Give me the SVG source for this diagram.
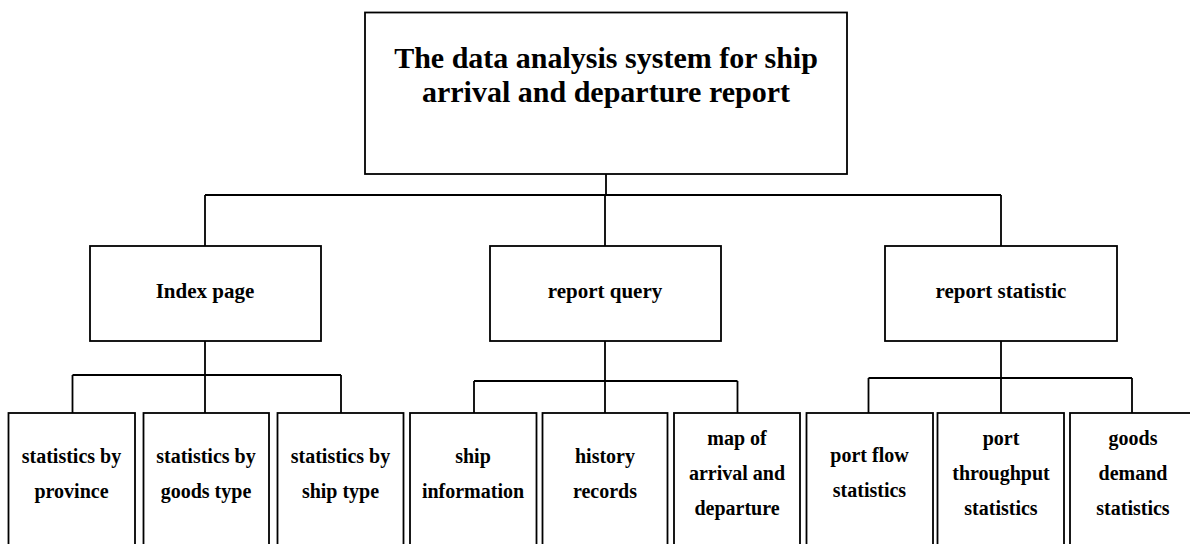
<svg xmlns="http://www.w3.org/2000/svg" width="1190" height="544" viewBox="0 0 1190 544">
<style>
  .box { fill: #ffffff; stroke: #000000; stroke-width: 1.8; }
  .conn { fill: none; stroke: #000000; stroke-width: 1.8; }
  text { font-family: "Liberation Serif", "Times New Roman", serif; font-weight: bold; fill: #000000; text-anchor: middle; }
  .t0 { font-size: 30px; }
  .t1 { font-size: 21px; }
  .t2 { font-size: 20px; }
</style>
<rect x="0" y="0" width="1190" height="544" fill="#ffffff"/>
<g id="connectors">
  <path class="conn" d="M606,174 V195 M205,195 H1001 M205,195 V246 M605,195 V246 M1001,195 V246"/>
  <path class="conn" d="M205,341 V375 M72.5,375 H341 M72.5,375 V413 M205,375 V413 M341,375 V413"/>
  <path class="conn" d="M605,341 V381 M474,381 H737.5 M474,381 V413 M605,381 V413 M737.5,381 V413"/>
  <path class="conn" d="M1001,341 V378 M868.5,378 H1132 M868.5,378 V413 M1001,378 V413 M1132,378 V413"/>
</g>
<g id="root">
  <rect class="box" x="365" y="12.5" width="482" height="161.5"/>
  <text class="t0" x="606" y="68">The data analysis system for ship</text>
  <text class="t0" x="606" y="102">arrival and departure report</text>
</g>
<g id="index-page">
  <rect class="box" x="90" y="246" width="231" height="95"/>
  <text class="t1" x="205" y="298">Index page</text>
</g>
<g id="report-query">
  <rect class="box" x="490" y="246" width="231" height="95"/>
  <text class="t1" x="605" y="298">report query</text>
</g>
<g id="report-statistic">
  <rect class="box" x="885" y="246" width="232" height="95"/>
  <text class="t1" x="1001" y="298">report statistic</text>
</g>
<g id="stat-province">
  <rect class="box" x="8.5" y="413" width="126.5" height="145"/>
  <text class="t2" x="71.5" y="463">statistics by</text>
  <text class="t2" x="71.5" y="498">province</text>
</g>
<g id="stat-goods-type">
  <rect class="box" x="143.5" y="413" width="125.5" height="145"/>
  <text class="t2" x="206" y="463">statistics by</text>
  <text class="t2" x="206" y="498">goods type</text>
</g>
<g id="stat-ship-type">
  <rect class="box" x="277.5" y="413" width="126" height="145"/>
  <text class="t2" x="340.5" y="463">statistics by</text>
  <text class="t2" x="340.5" y="498">ship type</text>
</g>
<g id="ship-information">
  <rect class="box" x="410" y="413" width="126.5" height="145"/>
  <text class="t2" x="473" y="463">ship</text>
  <text class="t2" x="473" y="498">information</text>
</g>
<g id="history-records">
  <rect class="box" x="542.5" y="413" width="125" height="145"/>
  <text class="t2" x="605" y="463">history</text>
  <text class="t2" x="605" y="498">records</text>
</g>
<g id="map-arrival-departure">
  <rect class="box" x="674" y="413" width="126" height="145"/>
  <text class="t2" x="737" y="445">map of</text>
  <text class="t2" x="737" y="480">arrival and</text>
  <text class="t2" x="737" y="515">departure</text>
</g>
<g id="port-flow">
  <rect class="box" x="806.5" y="413" width="126.5" height="145"/>
  <text class="t2" x="869.5" y="462">port flow</text>
  <text class="t2" x="869.5" y="497">statistics</text>
</g>
<g id="port-throughput">
  <rect class="box" x="937.5" y="413" width="126.5" height="145"/>
  <text class="t2" x="1001" y="445">port</text>
  <text class="t2" x="1001" y="480">throughput</text>
  <text class="t2" x="1001" y="515">statistics</text>
</g>
<g id="goods-demand">
  <rect class="box" x="1070" y="413" width="126" height="145"/>
  <text class="t2" x="1133" y="445">goods</text>
  <text class="t2" x="1133" y="480">demand</text>
  <text class="t2" x="1133" y="515">statistics</text>
</g>
</svg>
